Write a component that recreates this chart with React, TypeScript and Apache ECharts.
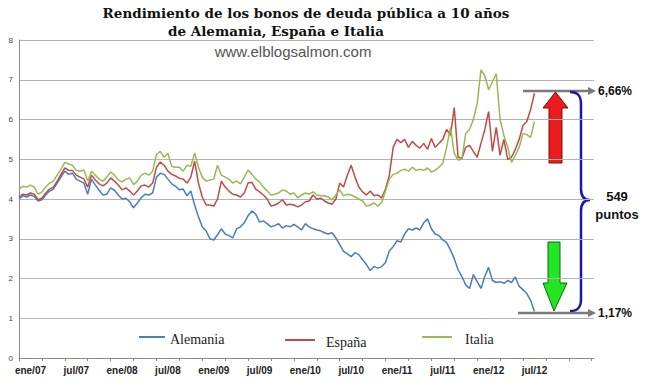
import React, { useEffect, useRef } from "react";
import * as echarts from "echarts";

// x position of sample i = i * monthStep (months from the start of the axis)
const monthStep = 0.5;
const axisMaxMonth = 75.3;

const tickLabels = [
  "ene/07", "jul/07", "ene/08", "jul/08", "ene/09", "jul/09",
  "ene/10", "jul/10", "ene/11", "jul/11", "ene/12", "jul/12",
];
const labelMonths = [1.5, 7.5, 13.5, 19.5, 25.5, 31.5, 37.5, 43.5, 49.5, 55.5, 61.5, 67.5];
const tickMonths = [0, 3, 6, 9, 12, 15, 18, 21, 24, 27, 30, 33, 36, 39, 42, 45, 48, 51, 54, 57, 60, 63, 66, 69, 72, 75];

const alemania = [
  4.0, 4.08, 4.05, 4.1, 4.06, 3.95, 3.98, 4.1, 4.2, 4.25,
  4.4, 4.55, 4.7, 4.62, 4.65, 4.5, 4.45, 4.4, 4.12, 4.5,
  4.35, 4.22, 4.1, 4.12, 4.28, 4.22, 4.1, 4.0, 4.02, 3.93,
  3.78, 3.9, 4.03, 4.12, 4.1, 4.15, 4.55, 4.65, 4.62, 4.5,
  4.38, 4.32, 4.23, 4.25, 4.08, 4.2, 3.85, 3.55, 3.3, 3.2,
  3.0, 2.97, 3.1, 3.25, 3.12, 3.08, 3.02, 3.25, 3.3, 3.4,
  3.58, 3.7, 3.62, 3.42, 3.45, 3.38, 3.3, 3.33, 3.38, 3.27,
  3.33, 3.3, 3.36, 3.3, 3.22, 3.38, 3.3, 3.25, 3.22, 3.2,
  3.15, 3.12, 3.15, 3.02, 2.85, 2.68, 2.62, 2.55, 2.65, 2.6,
  2.47, 2.35, 2.2, 2.3, 2.26, 2.3, 2.4, 2.7, 2.8, 2.95,
  2.92, 3.12, 3.25, 3.22, 3.27, 3.22, 3.4, 3.5, 3.25, 3.12,
  3.08, 2.97, 2.9, 2.72, 2.5, 2.22, 2.05, 1.84, 1.75, 2.1,
  1.92, 1.75, 2.05, 2.28, 1.95, 1.9, 1.92, 1.88, 1.95, 1.9,
  2.04, 1.8, 1.72, 1.62, 1.45, 1.17,
];

const espana = [
  4.05, 4.12, 4.1, 4.15, 4.12, 3.98, 4.02, 4.15, 4.25, 4.3,
  4.45, 4.62, 4.78, 4.72, 4.72, 4.6, 4.55, 4.5, 4.3, 4.6,
  4.48, 4.38, 4.33, 4.4, 4.53, 4.45, 4.35, 4.23, 4.28, 4.2,
  4.1, 4.2, 4.33, 4.35, 4.3, 4.4, 4.8, 4.93, 4.85, 4.7,
  4.62, 4.58, 4.52, 4.5, 4.4, 4.55, 4.95, 4.4, 4.05, 3.85,
  3.85, 3.82, 4.0, 4.45, 4.3, 4.2, 4.12, 4.1, 4.05, 4.15,
  4.4, 4.42, 4.25, 4.18, 4.1, 4.0, 3.82, 3.85, 3.9, 3.98,
  3.85, 3.87, 3.85, 3.8, 3.85, 3.93, 3.95, 4.1, 4.0, 4.02,
  3.95, 3.9, 3.87, 4.0, 4.4, 4.3, 4.6, 4.85, 4.55, 4.3,
  4.18, 4.1, 4.2, 4.08, 4.1, 4.03, 4.25, 4.6, 5.3, 5.5,
  5.42, 5.5, 5.3, 5.45, 5.35, 5.28, 5.4, 5.25, 5.52, 5.3,
  5.4, 5.5, 5.75, 5.6, 6.3, 5.05, 5.02, 5.3, 5.35, 5.2,
  5.05, 5.4, 5.75, 6.2, 5.2, 5.8, 5.1, 5.5, 5.0, 5.05,
  5.25, 5.5, 5.85, 5.95, 6.25, 6.66,
];

const italia = [
  4.25, 4.32, 4.3, 4.35, 4.3, 4.12, 4.18, 4.3, 4.4, 4.45,
  4.6, 4.75, 4.92, 4.88, 4.85, 4.72, 4.7, 4.73, 4.45, 4.7,
  4.6, 4.5, 4.45, 4.55, 4.68, 4.6, 4.48, 4.43, 4.5, 4.53,
  4.36, 4.45, 4.6, 4.65, 4.6, 4.7, 5.12, 5.2, 5.05, 5.15,
  4.82, 4.8, 4.8, 4.7, 4.85, 4.82, 5.16, 4.8, 4.55, 4.45,
  4.48, 4.5, 4.85, 4.6, 4.55, 4.5, 4.4, 4.45, 4.38, 4.55,
  4.73, 4.62, 4.5, 4.43, 4.3, 4.2, 4.1, 4.12, 4.15, 4.23,
  4.2, 4.12, 4.15, 4.03, 4.1, 4.15, 4.12, 4.18, 4.1, 4.08,
  4.08, 4.05, 3.98, 4.1, 4.23, 4.08, 4.12, 4.1, 4.05, 4.0,
  3.95, 3.82, 3.85, 3.9, 3.82, 3.92, 4.2, 4.5, 4.62, 4.65,
  4.72, 4.75, 4.7, 4.8, 4.72, 4.75, 4.72, 4.78, 4.68, 4.72,
  4.8, 4.9, 5.3, 5.8, 5.15, 4.98, 5.0, 5.65, 5.75, 6.0,
  6.4, 7.25, 7.1, 6.75, 6.95, 7.15, 6.0, 5.6, 5.3, 4.92,
  5.1, 5.3, 5.65, 5.62, 5.55, 5.95,
];

const seriesNames = ["Alemania", "España", "Italia"];
const seriesColors = ["#4a7ebb", "#be4b48", "#98b954"];

const titleLine1 = "Rendimiento de los bonos de deuda pública a 10 años";
const titleLine2 = "de Alemania, España e Italia";
const sourceText = "www.elblogsalmon.com";
const topLabel = "6,66%";
const bottomLabel = "1,17%";
const spreadLines = ["549", "puntos"];

const bracePath =
  "M570,92 C578,92 581,96 581,104 L581,189 C581,196 584,200 590,200 C584,200 581,204 581,211 L581,299 C581,307 578,311 570,311";

let braceRegistered = false;

export default function App() {
  const ref = useRef<HTMLDivElement>(null);

  useEffect(() => {
    if (!ref.current) return;
    if (!braceRegistered) {
      echarts.graphic.registerShape("brace", echarts.graphic.extendPath(bracePath, {}) as any);
      braceRegistered = true;
    }
    const chart = echarts.init(ref.current, undefined, { renderer: "svg" });
    const toData = (arr: number[]) => arr.map((v, i) => [i * monthStep, v]);
    const all = [alemania, espana, italia];

    const legendItems: any[] = [];
    const legendPos = [
      { x1: 139, x2: 165, tx: 170, ty: 339 },
      { x1: 285, x2: 315, tx: 326, ty: 342 },
      { x1: 422, x2: 452, tx: 465, ty: 339 },
    ];
    seriesNames.forEach((name, i) => {
      const p = legendPos[i];
      legendItems.push({
        type: "line",
        shape: { x1: p.x1, y1: p.ty - 2, x2: p.x2, y2: p.ty - 2 },
        style: { stroke: seriesColors[i], lineWidth: 2 },
      });
      legendItems.push({
        type: "text",
        x: p.tx,
        y: p.ty,
        style: {
          text: name,
          font: "14px 'Liberation Serif', serif",
          fill: "#222",
          textVerticalAlign: "middle",
        },
      });
    });

    chart.setOption({
      animation: false,
      backgroundColor: "#ffffff",
      grid: { left: 19, right: 56, top: 40, bottom: 33, containLabel: false },
      xAxis: {
        type: "value",
        min: 0,
        max: axisMaxMonth,
        axisLine: { show: true, lineStyle: { color: "#8a8a8a", width: 1 } },
        axisTick: { show: true, length: 3, customValues: tickMonths, lineStyle: { color: "#8a8a8a" } },
        axisLabel: {
          customValues: labelMonths,
          formatter: (v: number) => tickLabels[Math.round((v - 1.5) / 6)] ?? "",
          color: "#222",
          fontSize: 10,
          fontWeight: "bold",
          fontFamily: "'Liberation Sans', Arial, sans-serif",
          margin: 7,
        },
        splitLine: { show: false },
      },
      yAxis: {
        type: "value",
        min: 0,
        max: 8,
        interval: 1,
        axisLine: { show: true, lineStyle: { color: "#8a8a8a", width: 1 } },
        axisTick: { show: false },
        axisLabel: {
          color: "#444",
          fontSize: 8,
          fontFamily: "'Liberation Sans', Arial, sans-serif",
          margin: 6,
        },
        splitLine: { show: true, lineStyle: { color: "#b4b4b4", width: 1 } },
      },
      series: all.map((arr, i) => ({
        name: seriesNames[i],
        type: "line",
        data: toData(arr),
        showSymbol: false,
        symbol: "none",
        lineStyle: { color: seriesColors[i], width: 1.5 },
        itemStyle: { color: seriesColors[i] },
        z: 2 + i,
      })),
      graphic: [
        {
          type: "text",
          x: 306,
          y: 13,
          style: {
            text: titleLine1,
            font: "bold 13.5px 'DejaVu Serif', serif",
            fill: "#111",
            textAlign: "center",
            textVerticalAlign: "middle",
          },
        },
        {
          type: "text",
          x: 276,
          y: 31,
          style: {
            text: titleLine2,
            font: "bold 13.5px 'DejaVu Serif', serif",
            fill: "#111",
            textAlign: "center",
            textVerticalAlign: "middle",
          },
        },
        {
          type: "text",
          x: 293,
          y: 51,
          style: {
            text: sourceText,
            font: "15px 'Liberation Sans', Arial, sans-serif",
            fill: "#555",
            textAlign: "center",
            textVerticalAlign: "middle",
          },
        },
        ...legendItems,
        // top reference line with arrow
        { type: "line", shape: { x1: 523, y1: 91, x2: 590, y2: 91 }, style: { stroke: "#7a7a7a", lineWidth: 2.5 } },
        { type: "polygon", shape: { points: [[588, 87], [596, 91], [588, 95]] }, style: { fill: "#7a7a7a" } },
        {
          type: "text", x: 598, y: 91,
          style: { text: topLabel, font: "bold 12px 'Liberation Sans', Arial, sans-serif", fill: "#111", textVerticalAlign: "middle" },
        },
        // bottom reference line with arrow
        { type: "line", shape: { x1: 518, y1: 313, x2: 590, y2: 313 }, style: { stroke: "#7a7a7a", lineWidth: 2.5 } },
        { type: "polygon", shape: { points: [[588, 309], [596, 313], [588, 317]] }, style: { fill: "#7a7a7a" } },
        {
          type: "text", x: 598, y: 313,
          style: { text: bottomLabel, font: "bold 12px 'Liberation Sans', Arial, sans-serif", fill: "#111", textVerticalAlign: "middle" },
        },
        // red up arrow
        {
          type: "polygon",
          shape: { points: [[549, 163], [549, 108], [543, 108], [555.5, 92], [568, 108], [562, 108], [562, 163]] },
          style: { fill: "#ea1c1c", stroke: "#7a1010", lineWidth: 1 },
        },
        // green down arrow
        {
          type: "polygon",
          shape: { points: [[548, 242], [560, 242], [560, 283], [567, 283], [554, 311], [543, 283], [548, 283]] },
          style: { fill: "#22e622", stroke: "#116611", lineWidth: 1 },
        },
        // brace
        {
          type: "brace",
          x: 0,
          y: 0,
          style: { stroke: "#1a1aa8", lineWidth: 2.5, fill: "none" },
        },
        {
          type: "text", x: 617, y: 196,
          style: { text: spreadLines[0], font: "bold 13px 'Liberation Sans', Arial, sans-serif", fill: "#111", textAlign: "center", textVerticalAlign: "middle" },
        },
        {
          type: "text", x: 617, y: 214,
          style: { text: spreadLines[1], font: "bold 13px 'Liberation Sans', Arial, sans-serif", fill: "#111", textAlign: "center", textVerticalAlign: "middle" },
        },
      ],
    });
    return () => chart.dispose();
  }, []);

  return (
    <div
      ref={ref}
      style={{ position: "absolute", left: 0, top: 0, width: 650, height: 391, background: "#fff" }}
    />
  );
}
